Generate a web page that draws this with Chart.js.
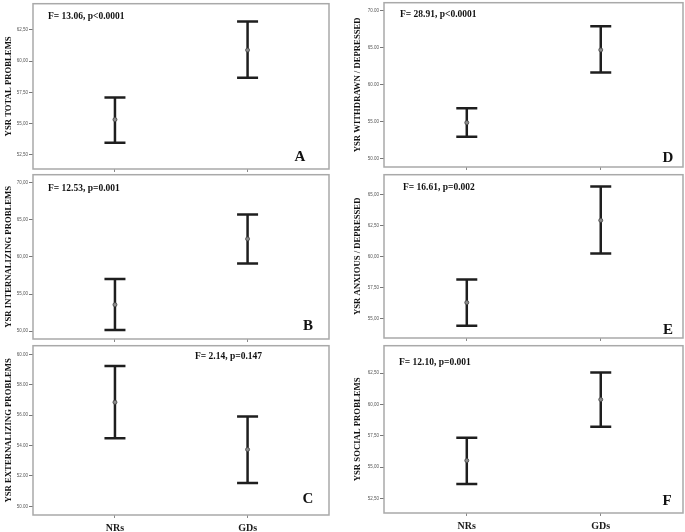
<!DOCTYPE html>
<html>
<head>
<meta charset="utf-8">
<script src="https://cdn.jsdelivr.net/npm/chart.js@4.4.1/dist/chart.umd.min.js"></script>
<style>
  body { margin: 0; background: #fff; width: 685px; height: 532px; position: relative; overflow: hidden; }
  canvas { position: absolute; }
</style>
</head>
<body>
<script>
// groups on the x axis
const groups = ['NRs', 'GDs']
const panelLetters = ['A', 'B', 'C', 'D', 'E', 'F']
const yTitles = ['YSR TOTAL PROBLEMS', 'YSR INTERNALIZING PROBLEMS', 'YSR EXTERNALIZING PROBLEMS',
  'YSR WITHDRAWN / DEPRESSED', 'YSR ANXIOUS / DEPRESSED', 'YSR SOCIAL PROBLEMS']
const fTexts = ['F= 13.06, p<0.0001', 'F= 12.53, p=0.001', 'F= 2.14, p=0.147',
  'F= 28.91, p<0.0001', 'F= 16.61, p=0.002', 'F= 12.10, p=0.001']

// means and error bar ends, one entry per panel A..F
const nrMean = [55.32, 53.56, 56.85, 54.87, 56.31, 55.53]
const nrLow  = [53.47, 50.13, 54.48, 52.96, 54.44, 53.66]
const nrHigh = [57.08, 57.03, 59.24, 56.82, 58.17, 57.34]
const gdMean = [60.87, 62.44, 53.74, 64.69, 62.92, 60.39]
const gdLow  = [58.66, 59.11, 51.54, 61.64, 60.26, 58.23]
const gdHigh = [63.16, 65.73, 55.91, 67.89, 65.64, 62.55]

// y axes
const yMin = [51.37, 48.93, 49.43, 48.88, 53.46, 51.35]
const yMax = [64.58, 71.1, 60.57, 71.06, 66.59, 64.68]
const yTicks = [
  [52.5, 55, 57.5, 60, 62.5],
  [50, 55, 60, 65, 70],
  [50, 52, 54, 56, 58, 60],
  [50, 55, 60, 65, 70],
  [55, 57.5, 60, 62.5, 65],
  [52.5, 55, 57.5, 60, 62.5]
]
const decimalMark = [',', ',', '.', '.', ',', ',']

// where each panel sits on the page (plot box edges) and where its texts go
const frames = [
  { x: 0,   w: 340, top: 1.5, bottom: 169, yw: 33, pr: 11, tp: 4,  last: false, fx: 15,  fy: 12.5, lx: 29, ly: 11.5 },
  { x: 0,   w: 340, top: 173, bottom: 339, yw: 33, pr: 11, tp: 4,  last: false, fx: 15,  fy: 14,   lx: 21, ly: 13 },
  { x: 0,   w: 340, top: 344, bottom: 515, yw: 33, pr: 11, tp: 4,  last: true,  fx: 162, fy: 11,   lx: 21, ly: 16 },
  { x: 340, w: 345, top: 1,   bottom: 167, yw: 44, pr: 2,  tp: 13, last: false, fx: 16,  fy: 12,   lx: 15, ly: 9 },
  { x: 340, w: 345, top: 172.5, bottom: 337.5, yw: 44, pr: 2, tp: 13, last: false, fx: 19, fy: 13, lx: 15, ly: 7.5 },
  { x: 340, w: 345, top: 344, bottom: 513, yw: 44, pr: 2,  tp: 13, last: true,  fx: 15,  fy: 17,   lx: 16, ly: 12 }
]

const serif = '"Liberation Serif", "Times New Roman", serif'

// plot box plus the F text and the panel letter
const boxPlugin = {
  id: 'box',
  afterDraw(chart, args, opts) {
    const ctx = chart.ctx
    const ca = chart.chartArea
    const f = opts.frame
    ctx.save()
    ctx.strokeStyle = '#a9a9a9'
    ctx.lineWidth = 1.5
    ctx.strokeRect(ca.left, ca.top, ca.right - ca.left, ca.bottom - ca.top)
    ctx.fillStyle = '#111'
    ctx.textBaseline = 'middle'
    ctx.textAlign = 'left'
    ctx.font = 'bold 9.5px ' + serif
    ctx.fillText(opts.fText, ca.left + f.fx, ca.top + f.fy)
    ctx.textAlign = 'center'
    ctx.font = 'bold 15px ' + serif
    ctx.fillText(opts.letter, ca.right - f.lx, ca.bottom - f.ly)
    ctx.restore()
  }
}

function makePanel(i) {
  const f = frames[i]
  const xh = f.last ? 20 : 5
  const canvas = document.createElement('canvas')
  const top = f.top - 2
  const h = f.bottom + xh - top
  canvas.width = f.w
  canvas.height = h
  canvas.style.left = f.x + 'px'
  canvas.style.top = top + 'px'
  document.body.appendChild(canvas)

  const barStyle = {
    showLine: true,
    borderColor: '#1e1e1e',
    borderWidth: 2.5,
    pointStyle: 'line',
    pointRadius: 10.5,
    pointBorderWidth: 2.5,
    pointBorderColor: '#1e1e1e'
  }

  new Chart(canvas, {
    type: 'scatter',
    data: {
      datasets: [
        {
          data: [{ x: 0, y: nrMean[i] }, { x: 1, y: gdMean[i] }],
          pointStyle: 'circle',
          pointRadius: 2,
          backgroundColor: '#8c8c8c',
          borderColor: '#444',
          borderWidth: 0.8
        },
        Object.assign({ data: [{ x: 0, y: nrLow[i] }, { x: 0, y: nrHigh[i] }] }, barStyle),
        Object.assign({ data: [{ x: 1, y: gdLow[i] }, { x: 1, y: gdHigh[i] }] }, barStyle)
      ]
    },
    options: {
      responsive: false,
      animation: false,
      events: [],
      layout: { autoPadding: false, padding: { top: 2, right: f.pr, left: 0, bottom: 0 } },
      plugins: {
        legend: { display: false },
        tooltip: { enabled: false },
        box: { frame: f, fText: fTexts[i], letter: panelLetters[i] }
      },
      scales: {
        x: {
          type: 'linear',
          min: -0.618,
          max: 1.614,
          afterBuildTicks: s => { s.ticks = [{ value: 0 }, { value: 1 }] },
          afterFit: s => { s.height = xh },
          border: { display: false },
          grid: { drawOnChartArea: false, drawTicks: true, tickLength: 3, color: '#888' },
          ticks: {
            autoSkip: false,
            maxRotation: 0,
            padding: 4,
            color: '#1a1a1a',
            font: { family: serif, size: 10, weight: 'bold' },
            callback: v => f.last ? groups[v] : ''
          }
        },
        y: {
          min: yMin[i],
          max: yMax[i],
          afterBuildTicks: s => { s.ticks = yTicks[i].map(v => ({ value: v })) },
          afterFit: s => { s.width = f.yw },
          border: { display: false },
          grid: { drawOnChartArea: false, drawTicks: true, tickLength: 4, color: '#777' },
          ticks: {
            padding: 1,
            color: '#555',
            font: { family: '"Liberation Sans", Arial, sans-serif', size: 4.5 },
            callback: v => v.toFixed(2).replace('.', decimalMark[i])
          },
          title: {
            display: true,
            text: yTitles[i],
            color: '#111',
            padding: { top: f.tp, bottom: 0 },
            font: { family: serif, size: 8.7, weight: 'bold' }
          }
        }
      }
    },
    plugins: [boxPlugin]
  })
}

for (let i = 0; i < 6; i++) makePanel(i)
</script>
</body>
</html>
